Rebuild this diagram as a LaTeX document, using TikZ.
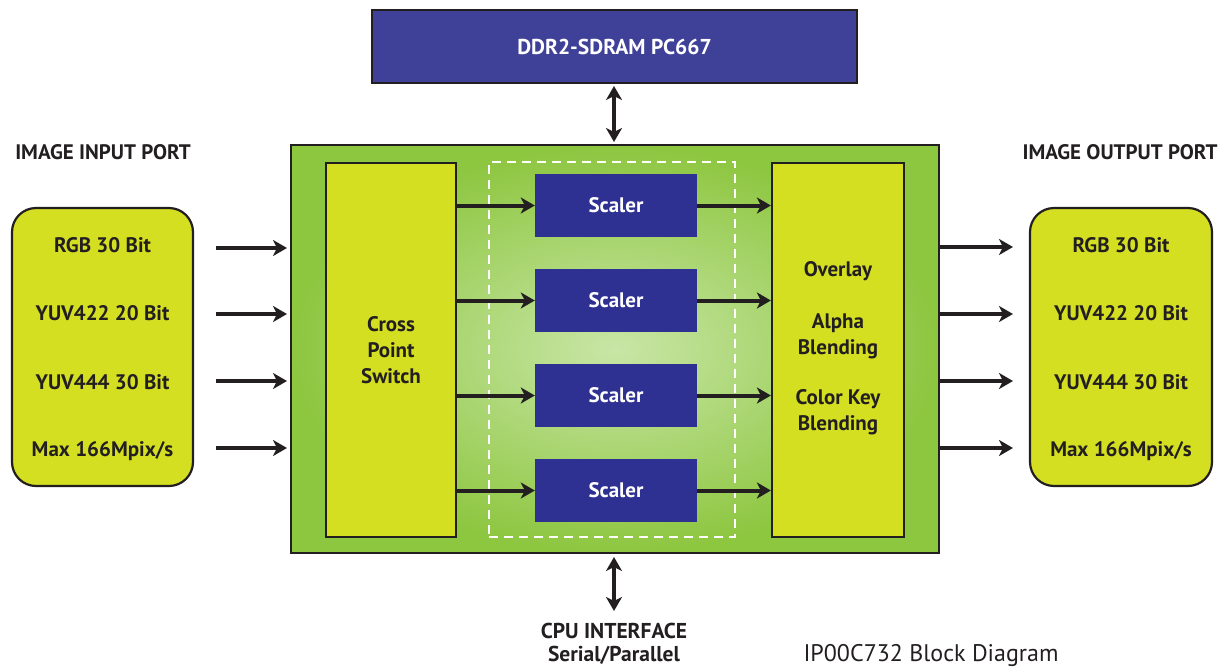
\documentclass[tikz,border=0pt]{standalone}
\usepackage{fontspec}
\setmainfont{PT Sans}
\usetikzlibrary{arrows.meta}
\definecolor{ddrblue}{HTML}{3F4199}
\definecolor{scblue}{HTML}{2E3192}
\definecolor{ylw}{HTML}{D5DF21}
\definecolor{grnout}{HTML}{8DC63F}
\definecolor{grnin}{HTML}{C8E6A6}
\definecolor{dk}{HTML}{231F20}
\tikzset{
  blk/.style={draw=dk, line width=2.2pt, fill=ylw, inner sep=0pt, text=dk, font=\bfseries\fontsize{21}{26}\selectfont, align=center},
  scal/.style={fill=scblue, minimum width=162pt, minimum height=63pt, inner sep=0pt, text=white, font=\bfseries\fontsize{21}{25}\selectfont},
  lbl/.style={text=dk, font=\bfseries\fontsize{21}{25}\selectfont, inner sep=0pt},
  arr/.style={draw=dk, line width=4pt, -{Stealth[length=14pt,width=16pt,inset=4pt]}},
  darr/.style={draw=dk, line width=4pt, {Stealth[length=14pt,width=16pt,inset=4pt]}-{Stealth[length=14pt,width=16pt,inset=4pt]}},
}
\begin{document}
\begin{tikzpicture}[x=1pt,y=-1pt]
\useasboundingbox (0,0) rectangle (1228,667);
% DDR box
\node[draw=dk, line width=1.8pt, fill=ddrblue, minimum width=485pt, minimum height=73pt, inner sep=0pt, text=white, font=\bfseries\fontsize{21.5}{25}\selectfont] (ddr) at (614.5,46.5) {DDR2-SDRAM PC667};
% main green box
\shade[inner color=grnin, outer color=grnout] (291,145) rectangle (939,553);
\node[draw=dk, line width=2.4pt, minimum width=648pt, minimum height=408pt, inner sep=0pt] (main) at (615,349) {};
% dashed region
\node[draw=white, line width=1.8pt, dash pattern=on 9pt off 6pt, minimum width=246pt, minimum height=375pt, inner sep=0pt] (dash) at (612,349.5) {};
% cross point switch
\node[blk, minimum width=130pt, minimum height=374pt] (cps) at (391,350) {Cross\\Point\\Switch};
% overlay
\node[blk, minimum width=132pt, minimum height=374pt] (ovl) at (838,350) {};
\node[lbl, align=center] (ov1) at (838,271) {Overlay};
\node[lbl, align=center, font=\bfseries\fontsize{21}{26}\selectfont] (ov2) at (838,336) {Alpha\\Blending};
\node[lbl, align=center, font=\bfseries\fontsize{21}{26}\selectfont] (ov3) at (838,412) {Color Key\\Blending};
% scalers
\foreach \i/\y in {1/205.5,2/300.5,3/395.5,4/490.5}{
  \node[scal] (s\i) at (616,\y) {Scaler};
  \draw[arr] (cps.east |- s\i.west) -- (s\i.west);
  \draw[arr] (s\i.east) -- (ovl.west |- s\i.east);
}
% input port
\node[lbl] (intit) at (103,152) {IMAGE INPUT PORT};
\node[draw=dk, line width=2.2pt, fill=ylw, rounded corners=24pt, minimum width=181pt, minimum height=278pt, inner sep=0pt] (inp) at (102.5,347) {};
\node[lbl] (i1) at (102.5,245) {RGB 30 Bit};
\node[lbl] (i2) at (102.5,313) {YUV422 20 Bit};
\node[lbl] (i3) at (102.5,382) {YUV444 30 Bit};
\node[lbl] (i4) at (102.5,451) {Max 166Mpix/s};
\foreach \y [count=\k] in {248,314,381,448}{
  \coordinate (ia\k) at (216,\y);
  \coordinate (ib\k) at (287,\y);
  \draw[arr] (ia\k) -- (ib\k);
}
% output port
\node[lbl] (outtit) at (1120,152) {IMAGE OUTPUT PORT};
\node[draw=dk, line width=2.2pt, fill=ylw, rounded corners=24pt, minimum width=182pt, minimum height=278pt, inner sep=0pt] (outp) at (1121,347) {};
\node[lbl] (o1) at (1121,245) {RGB 30 Bit};
\node[lbl] (o2) at (1121,313) {YUV422 20 Bit};
\node[lbl] (o3) at (1121,382) {YUV444 30 Bit};
\node[lbl] (o4) at (1121,451) {Max 166Mpix/s};
\foreach \y [count=\k] in {247,314,381,448}{
  \coordinate (oa\k) at (939,\y);
  \coordinate (ob\k) at (1013,\y);
  \draw[arr] (oa\k) -- (ob\k);
}
% DDR arrow
\coordinate (dtop) at (614,86);
\coordinate (dbot) at (614,142);
\draw[darr] (dtop) -- (dbot);
% CPU arrow
\coordinate (ctop) at (614,557);
\coordinate (cbot) at (614,611);
\draw[darr] (ctop) -- (cbot);
\node[lbl, font=\bfseries\fontsize{21.5}{25}\selectfont] (cpu1) at (614,631) {CPU INTERFACE};
\node[lbl, font=\bfseries\fontsize{21.5}{25}\selectfont] (cpu2) at (614,655) {Serial/Parallel};
\node[text=dk, inner sep=0pt, font=\fontsize{24}{28}\selectfont] (title) at (931,655) {IP00C732 Block Diagram};
\end{tikzpicture}
\end{document}
